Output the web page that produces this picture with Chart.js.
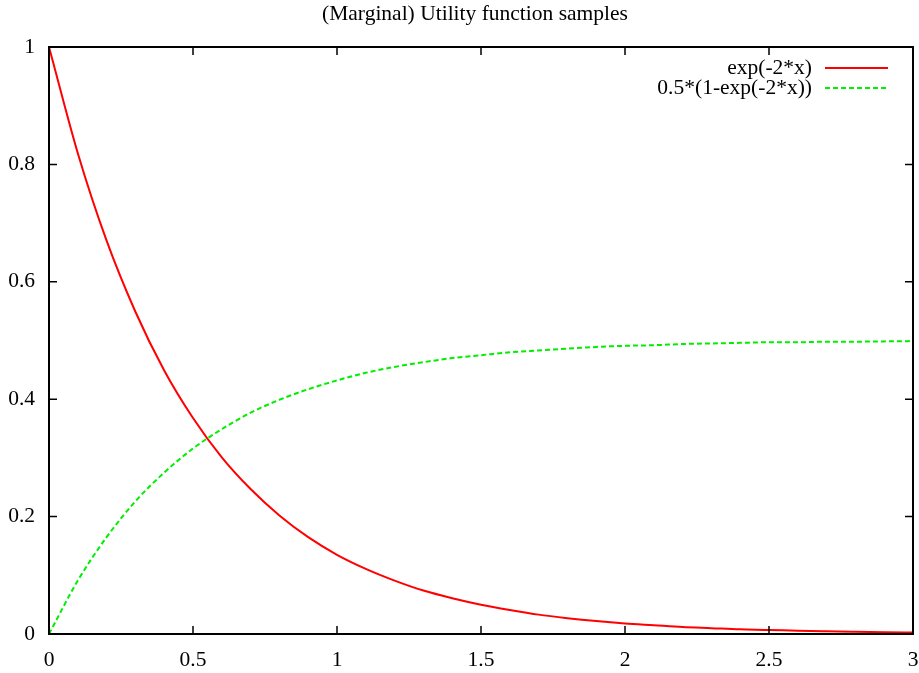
<!DOCTYPE html>
<html>
<head>
<meta charset="utf-8">
<script src="https://cdn.jsdelivr.net/npm/chart.js@4"></script>
<style>
  html, body { margin: 0; padding: 0; background: #fff; }
  #wrap { width: 919px; height: 673px; }
</style>
</head>
<body>
<div id="wrap"><canvas id="chart" width="919" height="673"></canvas></div>
<script>
const chartTitle = "(Marginal) Utility function samples";
const xValues = [0, 0.1, 0.2, 0.3, 0.4, 0.5, 0.6, 0.7, 0.8, 0.9, 1.0,
  1.1, 1.2, 1.3, 1.4, 1.5, 1.6, 1.7, 1.8, 1.9, 2.0,
  2.1, 2.2, 2.3, 2.4, 2.5, 2.6, 2.7, 2.8, 2.9, 3.0];
const utilityLabel = "exp(-2*x)";
const utilityValues = [1.0, 0.819, 0.670, 0.549, 0.449, 0.368, 0.301, 0.247, 0.202, 0.165, 0.135,
  0.111, 0.091, 0.074, 0.061, 0.050, 0.041, 0.033, 0.027, 0.022, 0.018,
  0.015, 0.012, 0.010, 0.008, 0.007, 0.0055, 0.0045, 0.0037, 0.003, 0.0025];
const marginalLabel = "0.5*(1-exp(-2*x))";
const marginalValues = [0, 0.091, 0.165, 0.226, 0.275, 0.316, 0.349, 0.377, 0.399, 0.417, 0.432,
  0.445, 0.455, 0.463, 0.470, 0.475, 0.480, 0.483, 0.486, 0.489, 0.491,
  0.492, 0.494, 0.495, 0.496, 0.497, 0.497, 0.498, 0.498, 0.4985, 0.499];
const xTicks = [0, 0.5, 1, 1.5, 2, 2.5, 3];
const yTicks = [0, 0.2, 0.4, 0.6, 0.8, 1];

const FONT = "Liberation Serif";
const FONT_SIZE = 21.5;

// frame, inward ticks on all sides, title and gnuplot-like key
const gnuplotBits = {
  id: "gnuplotBits",
  afterDatasetsDraw(chart) {
    const { ctx, chartArea: a, scales } = chart;
    ctx.save();
    ctx.strokeStyle = "#000";
    ctx.lineWidth = 1.5;
    ctx.beginPath();
    xTicks.forEach(v => {
      const px = scales.x.getPixelForValue(v);
      ctx.moveTo(px, a.bottom); ctx.lineTo(px, a.bottom - 8);
      ctx.moveTo(px, a.top); ctx.lineTo(px, a.top + 8);
    });
    yTicks.forEach(v => {
      const py = scales.y.getPixelForValue(v);
      ctx.moveTo(a.left, py); ctx.lineTo(a.left + 8, py);
      ctx.moveTo(a.right, py); ctx.lineTo(a.right - 8, py);
    });
    ctx.stroke();
    ctx.lineWidth = 2;
    ctx.strokeRect(a.left, a.top, a.right - a.left, a.bottom - a.top);

    ctx.fillStyle = "#000";
    ctx.font = FONT_SIZE + "px '" + FONT + "'";
    ctx.textAlign = "center";
    ctx.textBaseline = "middle";
    ctx.fillText(chartTitle, 475, 14);

    // key
    ctx.textAlign = "right";
    chart.data.datasets.forEach((ds, i) => {
      const y = 68 + i * 20;
      ctx.fillStyle = "#000";
      ctx.fillText(ds.label, 812, y);
      ctx.strokeStyle = ds.borderColor;
      ctx.lineWidth = ds.borderWidth;
      ctx.setLineDash(ds.borderDash || []);
      ctx.beginPath();
      ctx.moveTo(825, y);
      ctx.lineTo(888, y);
      ctx.stroke();
      ctx.setLineDash([]);
    });
    ctx.restore();
  }
};

new Chart(document.getElementById("chart"), {
  type: "line",
  data: {
    datasets: [
      {
        label: utilityLabel,
        data: xValues.map((x, i) => ({ x, y: utilityValues[i] })),
        borderColor: "#ff0000",
        borderWidth: 2,
        pointRadius: 0,
        cubicInterpolationMode: "monotone",
        fill: false
      },
      {
        label: marginalLabel,
        data: xValues.map((x, i) => ({ x, y: marginalValues[i] })),
        borderColor: "#00ee00",
        borderWidth: 2,
        borderDash: [5, 3],
        pointRadius: 0,
        cubicInterpolationMode: "monotone",
        fill: false
      }
    ]
  },
  options: {
    responsive: false,
    animation: false,
    layout: { padding: { top: 47, right: 6, left: 0, bottom: 0 } },
    plugins: {
      legend: { display: false },
      title: { display: false },
      tooltip: { enabled: false }
    },
    scales: {
      x: {
        type: "linear",
        min: 0,
        max: 3,
        afterBuildTicks: s => { s.ticks = xTicks.map(v => ({ value: v })); },
        afterFit: s => { s.height = 39; s.paddingLeft = 0; s.paddingRight = 0; },
        grid: { display: false, drawTicks: false },
        border: { display: false },
        ticks: {
          color: "#000",
          padding: 13,
          maxRotation: 0,
          autoSkip: false,
          font: { family: FONT, size: FONT_SIZE },
          callback: v => String(v)
        }
      },
      y: {
        type: "linear",
        min: 0,
        max: 1,
        afterBuildTicks: s => { s.ticks = yTicks.map(v => ({ value: v })); },
        afterFit: s => { s.width = 49; s.paddingTop = 0; s.paddingBottom = 0; },
        grid: { display: false, drawTicks: false },
        border: { display: false },
        ticks: {
          color: "#000",
          padding: 14,
          autoSkip: false,
          font: { family: FONT, size: FONT_SIZE },
          callback: v => String(v)
        }
      }
    }
  },
  plugins: [gnuplotBits]
});
</script>
</body>
</html>
